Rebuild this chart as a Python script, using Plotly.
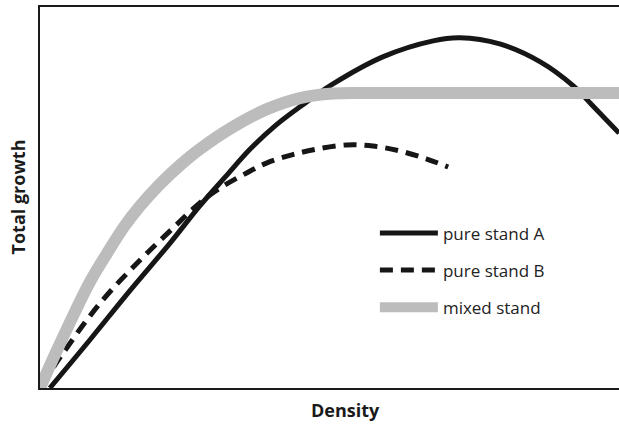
import plotly.graph_objects as go

# Density and total growth (both 0-100 over the visible window)
density_a = [1.7, 8.6, 15.5, 22.5, 27.6, 32.0, 36.3, 40.6, 44.9, 50.6, 59.2, 67.9, 72.5, 79.4, 86.4, 92.1, 95.5, 100.0]
growth_a = [0.0, 12.6, 25.5, 38.1, 47.8, 55.4, 62.7, 68.8, 73.8, 79.8, 86.9, 91.1, 91.9, 90.3, 85.6, 79.3, 74.0, 66.9]

density_b = [0.35, 3.5, 10.4, 17.3, 23.0, 27.6, 31.1, 35.4, 39.2, 43.5, 47.8, 53.0, 57.5, 62.2, 66.8, 70.5]
growth_b = [0.8, 8.1, 22.3, 33.6, 42.0, 48.6, 52.5, 56.2, 59.1, 61.2, 62.7, 63.8, 63.5, 62.2, 60.1, 58.0]

density_mix = [0.0, 2.8, 5.7, 8.6, 11.6, 14.5, 17.3, 20.7, 24.2, 27.6, 33.3, 39.2, 44.9, 50.6, 58.7, 100.0]
growth_mix = [0.0, 9.5, 18.9, 27.8, 35.4, 42.3, 47.8, 53.5, 58.5, 62.7, 68.5, 73.2, 76.1, 77.3, 77.4, 77.4]

names = ["pure stand A", "pure stand B", "mixed stand"]

fig = go.Figure()
fig.add_trace(go.Scatter(x=density_a, y=growth_a, mode="lines", name=names[0],
                         legendgroup="a", legendrank=1,
                         line=dict(color="#161616", width=5, shape="spline", smoothing=1.0)))
fig.add_trace(go.Scatter(x=density_b, y=growth_b, mode="lines", name=names[1],
                         legendgroup="b", legendrank=2,
                         line=dict(color="#161616", width=5, dash="13px,8px", shape="spline", smoothing=1.0)))
fig.add_trace(go.Scatter(x=density_mix, y=growth_mix, mode="lines", name=names[2],
                         legendgroup="c", legendrank=3,
                         line=dict(color="#bcbcbc", width=12, shape="spline", smoothing=1.0)))

title_font = dict(family="Open Sans, sans-serif", size=18, color="#1a1a1a")

# The reference is cropped on the right: the plot area runs past the window edge
fig.update_layout(
    width=650, height=425,
    margin=dict(l=40, r=0, t=7, b=37),
    paper_bgcolor="white", plot_bgcolor="white",
    font=dict(family="Open Sans, sans-serif", color="#1a1a1a"),
    xaxis=dict(range=[0, 105.35], showgrid=False, zeroline=False, showticklabels=False,
               ticks="", showline=True, linecolor="#1a1a1a", linewidth=2, mirror=True),
    yaxis=dict(range=[0, 100], showgrid=False, zeroline=False, showticklabels=False,
               ticks="", showline=True, linecolor="#1a1a1a", linewidth=2, mirror=False),
    showlegend=True,
    legend=dict(x=0.549, y=0.453, xanchor="left", yanchor="top",
                bgcolor="rgba(0,0,0,0)", borderwidth=0,
                font=dict(family="Open Sans, sans-serif", size=17, color="#222"),
                itemwidth=58, tracegroupgap=12, traceorder="grouped"),
    annotations=[
        dict(text="<b>Total growth</b>", xref="paper", yref="paper", x=-0.0377, y=0.5,
             xanchor="center", yanchor="middle", textangle=-90, showarrow=False,
             font=title_font),
        dict(text="<b>Density</b>", xref="paper", yref="paper", x=0.5, y=-0.058,
             xanchor="center", yanchor="middle", showarrow=False,
             font=title_font),
    ],
)

fig.write_html(
    "out.html",
    config={"displayModeBar": False},
    post_script=(
        "document.body.style.margin='0';"
        "document.body.style.overflow='hidden';"
        "document.documentElement.style.overflow='hidden';"
    ),
)
